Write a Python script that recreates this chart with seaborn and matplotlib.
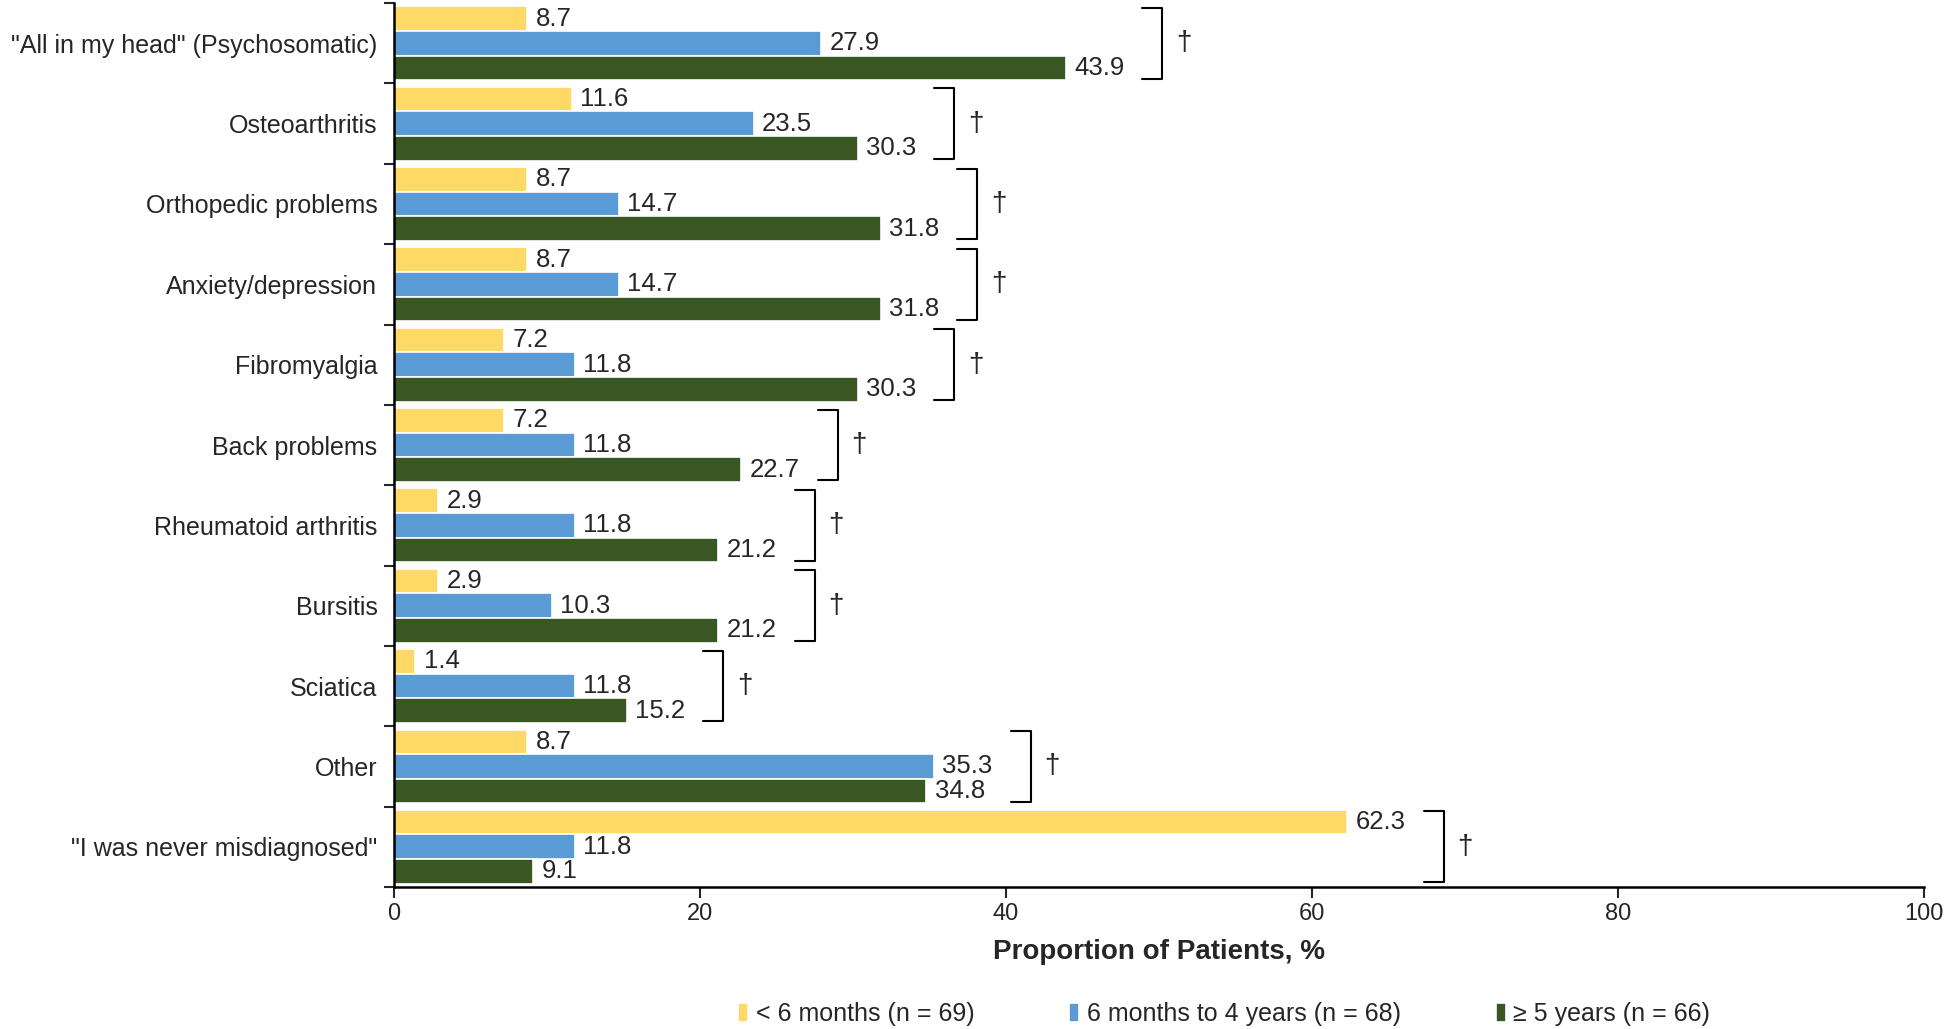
import pandas as pd
import matplotlib.pyplot as plt
import seaborn as sns

# categories and series
conditions = ['"All in my head" (Psychosomatic)', 'Osteoarthritis', 'Orthopedic problems',
              'Anxiety/depression', 'Fibromyalgia', 'Back problems', 'Rheumatoid arthritis',
              'Bursitis', 'Sciatica', 'Other', '"I was never misdiagnosed"']
lt6m = [8.7, 11.6, 8.7, 8.7, 7.2, 7.2, 2.9, 2.9, 1.4, 8.7, 62.3]
m6_4y = [27.9, 23.5, 14.7, 14.7, 11.8, 11.8, 11.8, 10.3, 11.8, 35.3, 11.8]
ge5y = [43.9, 30.3, 31.8, 31.8, 30.3, 22.7, 21.2, 21.2, 15.2, 34.8, 9.1]
groups = ['< 6 months (n = 69)', '6 months to 4 years (n = 68)', '\u2265 5 years (n = 66)']
colors = ['#FFD966', '#5B9BD5', '#385723']

rows = []
for g, vals in zip(groups, [lt6m, m6_4y, ge5y]):
    for c, v in zip(conditions, vals):
        rows.append({'Condition': c, 'Group': g, 'Value': v})
df = pd.DataFrame(rows)

sns.set_style('white')
plt.rcParams['font.family'] = ['Liberation Sans', 'DejaVu Sans']

fig = plt.figure(figsize=(19.46, 10.29), dpi=100)
ax = fig.add_axes([0.2025, 0.138, 0.7862, 0.859])

sns.barplot(data=df, x='Value', y='Condition', hue='Group', order=conditions,
            hue_order=groups, palette=colors, width=0.92, orient='h',
            edgecolor='white', linewidth=1.2, saturation=1, ax=ax, legend=True)

for cont in ax.containers:
    ax.bar_label(cont, fmt='%.1f', padding=6, fontsize=18.5)

# significance brackets
for i, c in enumerate(conditions):
    top = max(lt6m[i], m6_4y[i], ge5y[i])
    x = top + 6.3
    y0, y1 = i - 0.44, i + 0.44
    ax.plot([x - 1.3, x, x, x - 1.3], [y0, y0, y1, y1], color='black', lw=1.5,
            clip_on=False)
    ax.text(x + 0.9, i, '\u2020', fontsize=20, va='center', ha='left')

ax.set_xlim(0, 100)
ax.set_ylim(len(conditions) - 0.5, -0.5)
ax.set_xticks(range(0, 101, 20))
ax.set_xlabel('Proportion of Patients, %', fontsize=20, fontweight='bold', labelpad=10)
ax.set_ylabel('')
ax.tick_params(axis='x', labelsize=17, direction='out', length=8, width=1.5, bottom=True)
ax.tick_params(axis='y', labelsize=18, length=0, pad=12)
ax.set_yticks([i + 0.5 for i in range(-1, len(conditions))], minor=True)
ax.tick_params(axis='y', which='minor', direction='out', length=7, width=1.5, left=True)

for s in ['top', 'right']:
    ax.spines[s].set_visible(False)
for s in ['left', 'bottom']:
    ax.spines[s].set_linewidth(1.8)
    ax.spines[s].set_color('black')

handles, labels = ax.get_legend_handles_labels()
ax.legend(handles, labels, loc='lower center', ncol=3, frameon=False, fontsize=18,
          handlelength=0.4, handleheight=0.8, handletextpad=0.3, columnspacing=3.8,
          bbox_to_anchor=(0.629, -0.019), bbox_transform=fig.transFigure)

fig.savefig('out.png', dpi=100)
